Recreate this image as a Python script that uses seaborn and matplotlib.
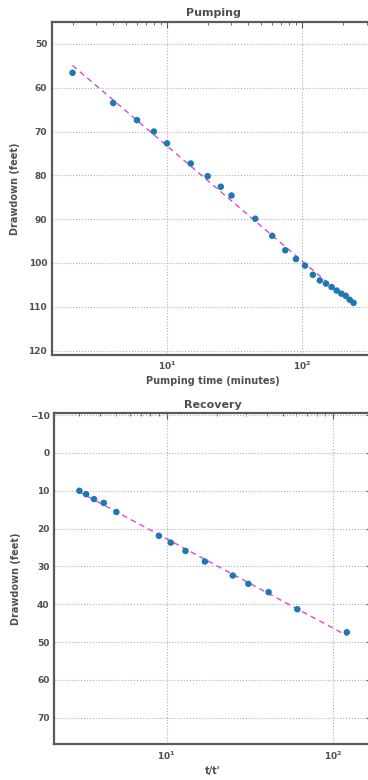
import numpy as np
import pandas as pd
import matplotlib
matplotlib.use("Agg")
import matplotlib.pyplot as plt
import seaborn as sns

# ---- data ----
pump_time = [2, 4, 6, 8, 10, 15, 20, 25, 30, 45, 60, 75, 90, 105, 120, 135,
             150, 165, 180, 195, 210, 225, 240]
pump_drawdown = [56.6, 63.5, 67.4, 70.0, 72.7, 77.3, 80.2, 82.6, 84.6, 89.9,
                 93.8, 97.1, 99.1, 100.6, 102.7, 104.0, 104.7, 105.5, 106.3,
                 107.0, 107.5, 108.4, 109.1]
rec_ratio = [3.0, 3.29, 3.67, 4.2, 5.0, 9.0, 10.6, 13.0, 17.0, 25.0, 31.0,
             41.0, 61.0, 121.0]
rec_drawdown = [10.0, 10.9, 12.2, 13.2, 15.6, 21.9, 23.7, 25.9, 28.7, 32.4,
                34.6, 36.8, 41.3, 47.4]

pump_df = pd.DataFrame({"t": pump_time, "s": pump_drawdown})
rec_df = pd.DataFrame({"r": rec_ratio, "s": rec_drawdown})

sns.set_style("white")
plt.rcParams["font.family"] = ["DejaVu Sans"]

TXT = "#505050"
SPINE = "#5a5a5a"
DOT = "#1f77b4"
LINE = "#d24dd2"

fig = plt.figure(figsize=(3.68, 7.8), dpi=100)
ax1 = fig.add_axes([0.1413, 0.5449, 0.875, 0.4269])
ax2 = fig.add_axes([0.1476, 0.0458, 0.863, 0.4244])


def style(ax, title, xlabel):
    ax.set_xscale("log")
    ax.set_title(title, fontsize=8, fontweight="bold", color=TXT, pad=4)
    ax.set_xlabel(xlabel, fontsize=7, fontweight="bold", color=TXT, labelpad=3)
    ax.set_ylabel("Drawdown (feet)", fontsize=7, fontweight="bold", color=TXT, labelpad=6)
    ax.grid(True, which="major", linestyle=":", color="#b0b0b0", linewidth=0.8)
    for sp in ax.spines.values():
        sp.set_color(SPINE)
        sp.set_linewidth(1.6)
    ax.tick_params(axis="both", which="both", direction="in", top=True, right=True,
                   colors=SPINE, labelcolor=TXT, labelsize=6.5)
    ax.tick_params(which="major", length=4, width=0.8)
    ax.tick_params(which="minor", length=2, width=0.6)
    for lab in ax.get_xticklabels() + ax.get_yticklabels():
        lab.set_fontweight("bold")


sns.regplot(data=pump_df, x="t", y="s", logx=True, ci=None, ax=ax1,
            scatter_kws=dict(s=22, color=DOT, alpha=1.0, edgecolor="none", zorder=3),
            line_kws=dict(color=LINE, linestyle=(0, (4, 3)), linewidth=1.0, zorder=2))
ax1.set_xlim(1.41, 340)
ax1.set_ylim(121, 45)
ax1.set_yticks([50, 60, 70, 80, 90, 100, 110, 120])
style(ax1, "Pumping", "Pumping time (minutes)")

sns.regplot(data=rec_df, x="r", y="s", logx=True, ci=None, ax=ax2,
            scatter_kws=dict(s=22, color=DOT, alpha=1.0, edgecolor="none", zorder=3),
            line_kws=dict(color=LINE, linestyle=(0, (4, 3)), linewidth=1.0, zorder=2))
ax2.set_xlim(2.12, 171)
ax2.set_ylim(77, -10.5)
ax2.set_yticks([-10, 0, 10, 20, 30, 40, 50, 60, 70])
style(ax2, "Recovery", "t/t'")

fig.savefig("out.png", dpi=100)
